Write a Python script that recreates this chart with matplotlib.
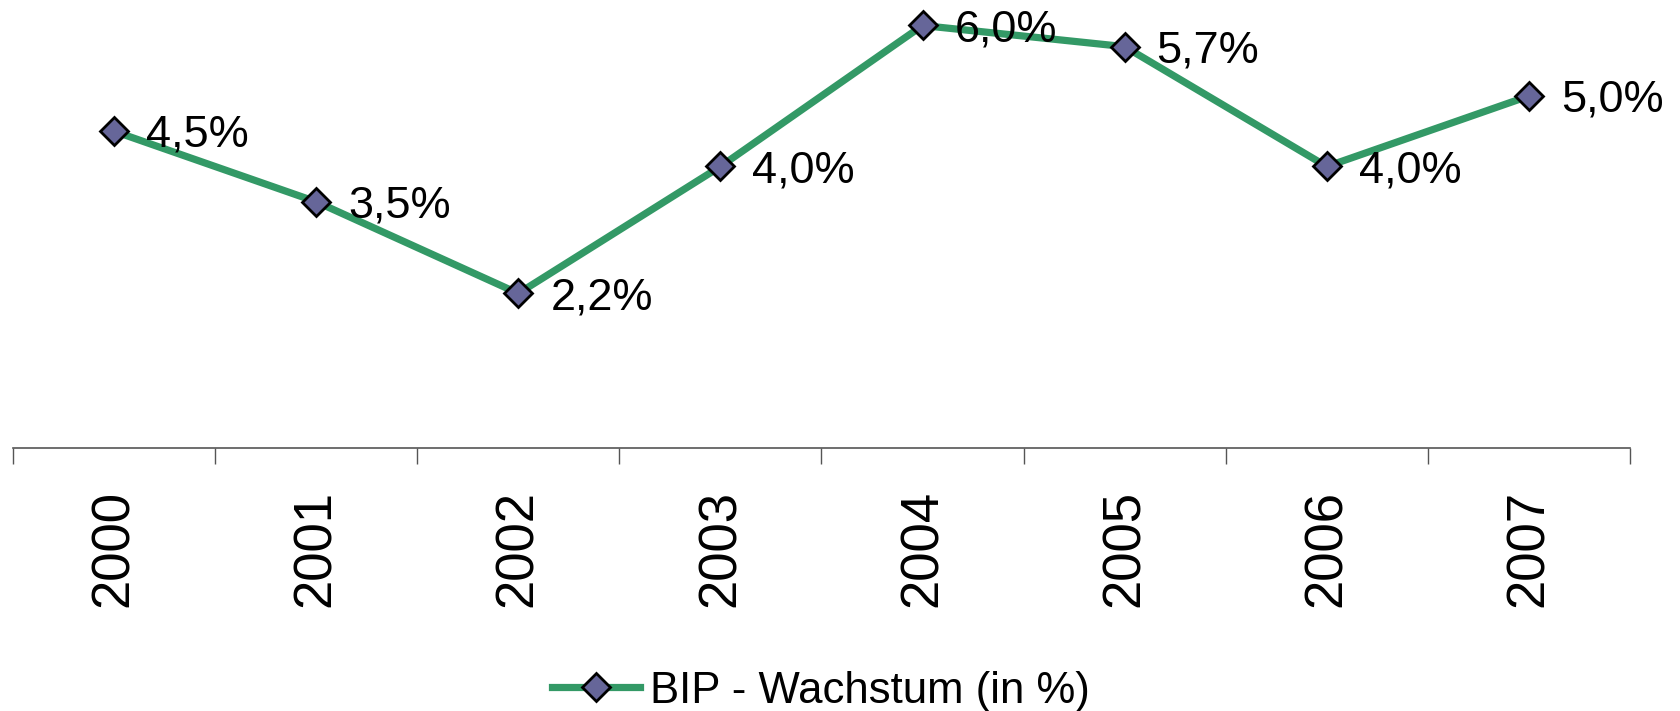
import matplotlib
matplotlib.use("Agg")
import matplotlib.pyplot as plt
import numpy as np

years = ["2000", "2001", "2002", "2003", "2004", "2005", "2006", "2007"]
growth = [4.5, 3.5, 2.2, 4.0, 6.0, 5.7, 4.0, 5.0]
series_name = "BIP - Wachstum (in %)"

plt.rcParams['font.family'] = ['Liberation Sans', 'DejaVu Sans']

W, H = 1681, 711
fig = plt.figure(figsize=(W / 100, H / 100), dpi=100)
left_px, right_px, axis_px = 13, 1630, 448.5
ax = fig.add_axes([left_px / W, 1 - axis_px / H, (right_px - left_px) / W, axis_px / H])

x = np.arange(len(years))
line_color = "#339966"
marker_face = "#666699"

ax.plot(x, growth, color=line_color, lw=5.2, marker='D', ms=14.5,
        mfc=marker_face, mec='black', mew=2, clip_on=False, zorder=3,
        label=series_name, solid_joinstyle='round')

for xi, v in zip(x, growth):
    ax.annotate(f"{v:.1f}%".replace('.', ','), (xi, v), xytext=(23, -3),
                textcoords='offset points', ha='left', va='center',
                fontsize=32.5, annotation_clip=False)

ax.set_xlim(-0.5, len(years) - 0.5)
ax.set_ylim(0, axis_px / 70.5)

for s in ['top', 'right', 'left']:
    ax.spines[s].set_visible(False)
ax.spines['bottom'].set_color('#555555')
ax.spines['bottom'].set_linewidth(1.2)
ax.set_yticks([])

ax.set_xticks(np.arange(len(years) + 1) - 0.5)
ax.set_xticklabels([])
ax.tick_params(axis='x', which='major', length=11.5, width=1, color='#555555', direction='out')
ax.set_xticks(x, minor=True)
ax.set_xticklabels(years, minor=True, rotation=90, fontsize=38)
ax.tick_params(axis='x', which='minor', length=0, pad=30)

fig.legend(loc='center left', bbox_to_anchor=(552 / W, 1 - 691 / H), frameon=False,
           fontsize=31.5, handlelength=2, handletextpad=0.25, borderpad=0, borderaxespad=0)

fig.savefig("out.png", dpi=100)
